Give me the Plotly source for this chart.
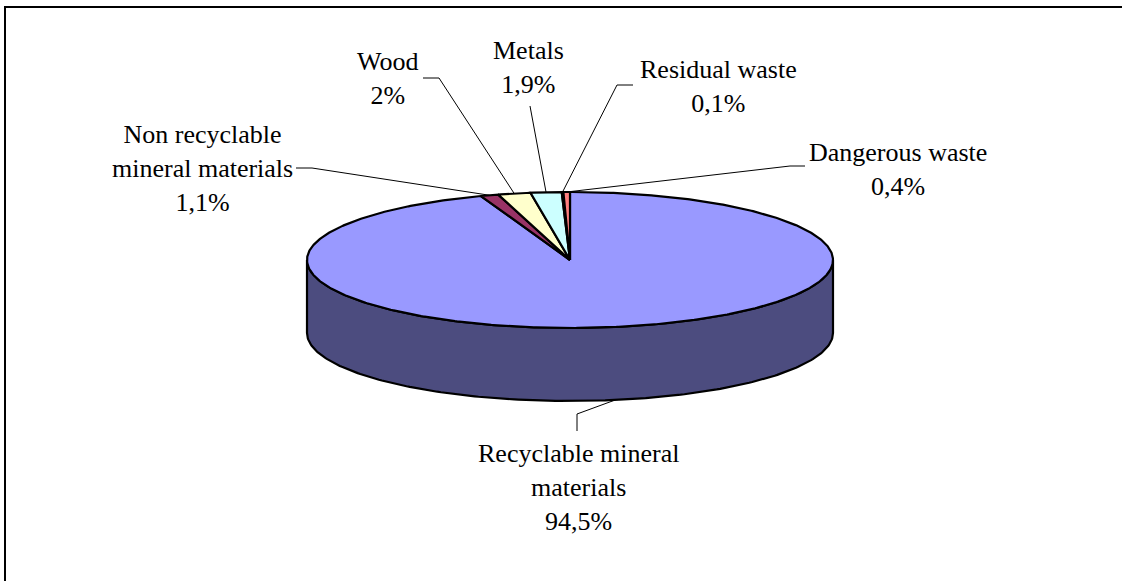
import numpy as np
import plotly.graph_objects as go

# Construction waste composition (%)
categories = [
    "Recyclable mineral materials",
    "Non recyclable mineral materials",
    "Wood",
    "Metals",
    "Residual waste",
    "Dangerous waste",
]
values = [94.5, 1.1, 2.0, 1.9, 0.1, 0.4]
value_labels = ["94,5%", "1,1%", "2%", "1,9%", "0,1%", "0,4%"]
label_text = [
    "Recyclable mineral<br>materials",
    "Non recyclable<br>mineral materials",
    "Wood",
    "Metals",
    "Residual waste",
    "Dangerous waste",
]

# Excel-style palette
colors = ["#9999FF", "#993366", "#FFFFCC", "#CCFFFF", "#660066", "#FF8080"]
side_color = "#4C4C7F"

W, H = 1122, 581
# pie geometry in page pixels
CX, CY = 570, 260
RX, RY = 263, 68
DEPTH = 73

# label placement: (center x, center y, leader start, leader elbow)
label_layout = [
    (578, 487, (577, 431), (577, 414)),
    (202, 168, (296, 168), (312, 168)),
    (387, 78, (423, 78), (439, 78)),
    (528, 67, (530, 106), None),
    (718, 86, (633, 85), (617, 85)),
    (898, 169, (805, 166), (790, 166)),
]

FONT = dict(family="Liberation Serif, Times New Roman, serif", size=26, color="black")


def ell(theta_deg, dy=0.0):
    t = np.radians(theta_deg)
    return CX + RX * np.sin(t), CY - RY * np.cos(t) + dy


fig = go.Figure()

total = sum(values)
bounds = np.concatenate([[0], np.cumsum(values)]) / total * 360.0

# visible outer wall (front half, 90..270 deg clockwise from top)
for i in range(len(values)):
    a0, a1 = max(bounds[i], 90.0), min(bounds[i + 1], 270.0)
    if a1 <= a0:
        continue
    th = np.linspace(a0, a1, 200)
    xt, yt = ell(th)
    xb, yb = ell(th[::-1], DEPTH)
    fig.add_trace(go.Scatter(
        x=np.concatenate([xt, xb, xt[:1]]),
        y=np.concatenate([yt, yb, yt[:1]]),
        mode="lines", fill="toself", fillcolor=side_color,
        line=dict(color="black", width=2.2), hoverinfo="skip", showlegend=False,
    ))

# top faces
for i in range(len(values)):
    th = np.linspace(bounds[i], bounds[i + 1], max(int((bounds[i + 1] - bounds[i]) * 2), 4))
    xs, ys = ell(th)
    fig.add_trace(go.Scatter(
        x=np.concatenate([[CX], xs, [CX]]),
        y=np.concatenate([[CY], ys, [CY]]),
        mode="lines", fill="toself", fillcolor=colors[i],
        line=dict(color="black", width=2.2), name=categories[i],
        hoverinfo="name", showlegend=False,
    ))

# labels and leader lines
for i in range(len(values)):
    mid = (bounds[i] + bounds[i + 1]) / 2
    front = 90 < mid < 270
    px, py = ell(mid, DEPTH if front else 0)
    lx, ly, start, elbow = label_layout[i]
    pts = [start] + ([elbow] if elbow else []) + [(px, py)]
    fig.add_trace(go.Scatter(
        x=[p[0] for p in pts], y=[p[1] for p in pts], mode="lines",
        line=dict(color="black", width=1), hoverinfo="skip", showlegend=False,
    ))
    fig.add_annotation(
        x=lx, y=ly, text=f"{label_text[i]}<br>{value_labels[i]}",
        showarrow=False, font=FONT, align="center",
        xanchor="center", yanchor="middle",
    )

# chart frame
fig.add_shape(type="rect", x0=5, y0=7, x1=W + 20, y1=H + 20,
              line=dict(color="black", width=2), layer="above")

fig.update_layout(
    width=W, height=H,
    margin=dict(l=0, r=0, t=0, b=0),
    paper_bgcolor="white", plot_bgcolor="white",
    xaxis=dict(range=[0, W], visible=False, fixedrange=True),
    yaxis=dict(range=[H, 0], visible=False, fixedrange=True),
)

fig.write_html("out.html")
